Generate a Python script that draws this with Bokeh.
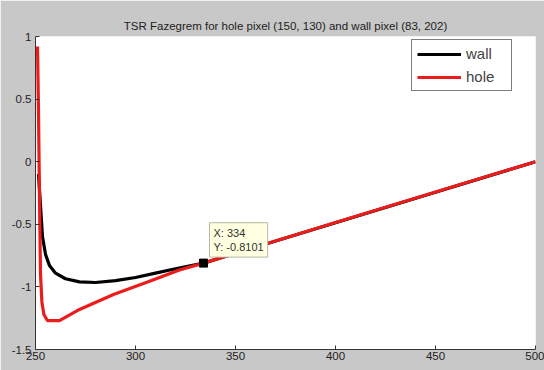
from bokeh.plotting import figure
from bokeh.models import Legend, LegendItem, Label, FixedTicker, Range1d
from bokeh.embed import file_html
from bokeh.resources import INLINE

# ---- data ----
wall_x = [251.5, 252.5, 253.5, 255.0, 257.0, 260.0, 265.0, 272.0, 280.0, 290.0,
          300.0, 310.0, 320.0, 334.0, 400.0, 450.0, 500.0]
wall_y = [-0.10, -0.35, -0.60, -0.74, -0.83, -0.89, -0.935, -0.96, -0.965, -0.95,
          -0.925, -0.89, -0.855, -0.8101, -0.488, -0.244, 0.0]

hole_x = [251.0, 251.5, 252.0, 252.5, 253.2, 254.2, 256.0, 262.0, 272.0, 289.0,
          306.0, 322.0, 334.0, 400.0, 450.0, 500.0]
hole_y = [0.92, 0.40, -0.30, -0.90, -1.12, -1.22, -1.27, -1.27, -1.18, -1.06,
          -0.96, -0.865, -0.8101, -0.485, -0.242, 0.0]

tip_x = 334
tip_y = -0.8101

x_ticks = [250, 300, 350, 400, 450, 500]
x_tick_labels = ["250", "300", "350", "400", "450", "500"]
y_ticks = [-1.5, -1.0, -0.5, 0.0, 0.5, 1.0]
y_tick_labels = ["-1.5", "-1", "-0.5", "0", "0.5", "1"]

title_text = "TSR Fazegrem for hole pixel (150, 130) and wall pixel (83, 202)"

FONT = "Liberation Sans"

p = figure(width=544, height=370, output_backend="svg", toolbar_location=None,
           x_range=Range1d(250, 500), y_range=Range1d(-1.5, 1.0),
           min_border_left=35, min_border_right=9, min_border_top=36, min_border_bottom=21)

p.border_fill_color = "#c8c8c8"
p.background_fill_color = "white"
p.outline_line_color = None
p.xgrid.visible = False
p.ygrid.visible = False

p.title.text = title_text
p.title.align = "center"
p.title.text_font = FONT
p.title.text_font_size = "11.5px"
p.title.text_font_style = "normal"
p.title.text_color = "#222222"
p.title.standoff = 9

for ax in (p.xaxis[0], p.yaxis[0]):
    ax.axis_line_color = "#333333"
    ax.major_tick_line_color = "#333333"
    ax.major_tick_in = 4
    ax.major_tick_out = 0
    ax.minor_tick_line_color = None
    ax.major_label_text_font = FONT
    ax.major_label_text_font_size = "11.5px"
    ax.major_label_text_color = "#222222"

p.xaxis[0].ticker = FixedTicker(ticks=x_ticks)
p.xaxis[0].major_label_overrides = {t: l for t, l in zip(x_ticks, x_tick_labels)}
p.xaxis[0].major_label_standoff = 2
p.yaxis[0].ticker = FixedTicker(ticks=y_ticks)
p.yaxis[0].major_label_overrides = {t: l for t, l in zip(y_ticks, y_tick_labels)}
p.yaxis[0].major_label_standoff = 4

r_wall = p.line(wall_x, wall_y, line_color="black", line_width=3.2)
r_hole = p.line(hole_x, hole_y, line_color="#ec1c1c", line_width=3.2)

# data tip
p.scatter([tip_x], [tip_y], marker="square", size=8, fill_color="black", line_color="black")
tip = Label(x=tip_x, y=tip_y, x_offset=6, y_offset=6,
            text="X: %d\nY: %.4f" % (tip_x, tip_y),
            text_font=FONT, text_font_size="11px", text_color="#333333",
            text_align="left", text_baseline="bottom",
            background_fill_color="#ffffe1", border_line_color="#b8b8a0",
            padding=4)
p.add_layout(tip)

legend = Legend(items=[LegendItem(label="wall", renderers=[r_wall]),
                       LegendItem(label="hole", renderers=[r_hole])],
                location=(376, 258),
                label_text_font=FONT, label_text_font_size="15px",
                glyph_width=44, glyph_height=16, label_height=16, label_width=40,
                label_standoff=5, spacing=6, padding=5, margin=0,
                border_line_color="black", border_line_width=1,
                background_fill_color="white", background_fill_alpha=1.0)
p.add_layout(legend)

open("out.html", "w").write(file_html(p, INLINE))
